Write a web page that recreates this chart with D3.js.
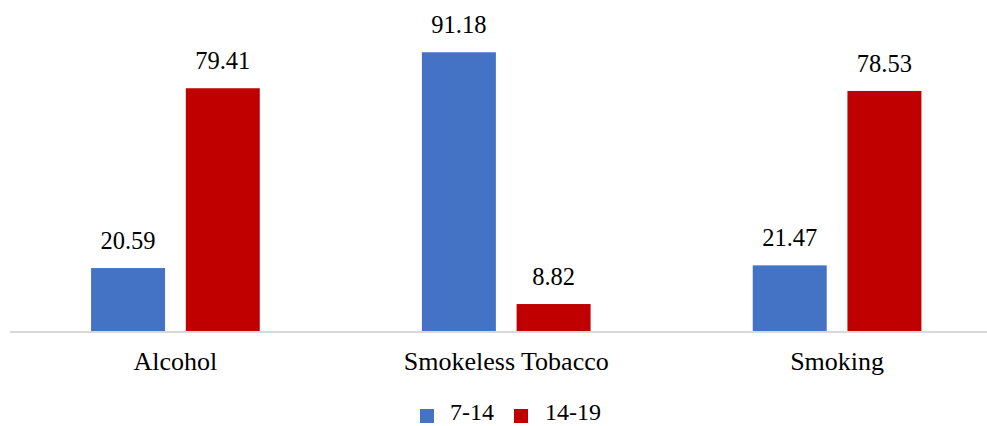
<!DOCTYPE html>
<html>
<head>
<meta charset="utf-8">
<script src="https://cdn.jsdelivr.net/npm/d3@7"></script>
<style>
  html, body { margin: 0; padding: 0; background: #fff; }
  svg { display: block; }
  text { font-family: "Liberation Serif", "Times New Roman", serif; fill: #000; }
</style>
</head>
<body>
<svg id="chart" width="987" height="426"></svg>
<script>
const categories = ["Alcohol", "Smokeless Tobacco", "Smoking"];
const seriesNames = ["7-14", "14-19"];
const values714 = [20.59, 91.18, 21.47];
const values1419 = [79.41, 8.82, 78.53];
const seriesColors = ["#4472C4", "#C00000"];

const seriesValues = [values714, values1419];
const data = categories.map((c, i) => ({
  category: c,
  values: seriesNames.map((s, j) => ({ series: s, value: seriesValues[j][i], color: seriesColors[j] }))
}));

const svg = d3.select("#chart");
const baseY = 331;
const fontSize = 24;

const x = d3.scaleBand().domain(categories).range([10, 1002.5]).paddingInner(0).paddingOuter(0);
const xSub = d3.scaleBand().domain(seriesNames).range([0, x.bandwidth()]).paddingInner(0.219).paddingOuter(0.856);
const y = d3.scaleLinear().domain([0, 100]).range([baseY, baseY - 305.7]);

const groups = svg.selectAll("g.cat").data(data).join("g")
  .attr("class", "cat")
  .attr("transform", d => `translate(${x(d.category)},0)`);

groups.selectAll("rect").data(d => d.values).join("rect")
  .attr("x", d => xSub(d.series))
  .attr("width", xSub.bandwidth())
  .attr("y", d => y(d.value))
  .attr("height", d => baseY - y(d.value))
  .attr("fill", d => d.color);

groups.selectAll("text.val").data(d => d.values).join("text")
  .attr("class", "val")
  .attr("x", d => xSub(d.series) + xSub.bandwidth() / 2)
  .attr("y", d => y(d.value) - 19)
  .attr("text-anchor", "middle")
  .style("font-size", "24.5px")
  .text(d => d.value.toFixed(2));

// axis
const axis = d3.axisBottom(x).tickSize(0).tickPadding(0);
const axisG = svg.append("g").attr("transform", `translate(0,${baseY + 1})`).call(axis);
axisG.select(".domain").attr("stroke", "#D9D9D9").attr("stroke-width", 2)
  .attr("d", "M10,0H987");
axisG.selectAll(".tick text")
  .attr("y", 38)
  .attr("dy", 0)
  .style("font-size", "26px")
  .style("font-family", '"Liberation Serif", serif')
  .attr("fill", "#000");

// legend
const legendItems = [
  { name: seriesNames[0], color: seriesColors[0], sx: 420, tx: 450 },
  { name: seriesNames[1], color: seriesColors[1], sx: 514, tx: 545 }
];
const legend = svg.append("g");
legend.selectAll("rect").data(legendItems).join("rect")
  .attr("x", d => d.sx).attr("y", 409).attr("width", 14).attr("height", 14)
  .attr("fill", d => d.color);
legend.selectAll("text").data(legendItems).join("text")
  .attr("x", d => d.tx).attr("y", 420)
  .style("font-size", fontSize + "px")
  .text(d => d.name);
</script>
</body>
</html>
